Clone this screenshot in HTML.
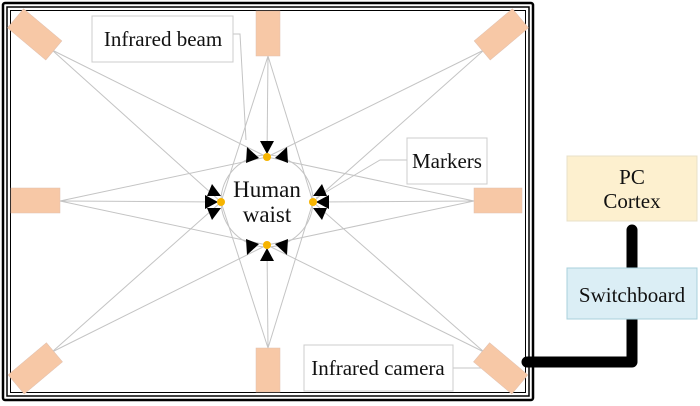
<!DOCTYPE html>
<html><head><meta charset="utf-8"><style>
body{margin:0;background:#fff}
svg{display:block}
text{font-family:"Liberation Serif",serif;fill:#111}
</style></head><body>
<svg width="700" height="406" viewBox="0 0 700 406">
<rect x="3" y="3" width="530" height="397" fill="none" stroke="#000" stroke-width="2.5" rx="2"/>
<rect x="7" y="7" width="522" height="389" fill="none" stroke="#000" stroke-width="1.5"/>
<rect x="10.5" y="10.5" width="515" height="382" fill="none" stroke="#000" stroke-width="1"/>
<g stroke="#c4c4c4" stroke-width="1" fill="none">
<line x1="52" y1="50" x2="267" y2="157"/><line x1="52" y1="50" x2="221" y2="202"/>
<line x1="268" y1="56" x2="267" y2="157"/><line x1="268" y1="56" x2="221" y2="202"/><line x1="268" y1="56" x2="313" y2="202"/>
<line x1="484" y1="50" x2="267" y2="157"/><line x1="484" y1="50" x2="313" y2="202"/>
<line x1="60" y1="201" x2="221" y2="202"/><line x1="60" y1="201" x2="267" y2="157"/><line x1="60" y1="201" x2="267" y2="245"/>
<line x1="474" y1="201" x2="313" y2="202"/><line x1="474" y1="201" x2="267" y2="157"/><line x1="474" y1="201" x2="267" y2="245"/>
<line x1="52" y1="352" x2="267" y2="245"/><line x1="52" y1="352" x2="221" y2="202"/>
<line x1="268" y1="348" x2="267" y2="245"/><line x1="268" y1="348" x2="221" y2="202"/><line x1="268" y1="348" x2="313" y2="202"/>
<line x1="484" y1="352" x2="267" y2="245"/><line x1="484" y1="352" x2="313" y2="202"/>
<circle cx="267" cy="201" r="46"/>
<polyline points="233,34 240,34 246,140"/>
<polyline points="407,160 380,160 316,198"/>
<line x1="453" y1="368" x2="500" y2="368"/>
</g>
<g fill="#f7c8a6" stroke="#e0c0b0" stroke-width="0.5">
<rect x="256" y="11" width="24" height="45"/>
<rect x="256" y="348" width="24" height="44"/>
<rect x="11" y="188" width="49" height="25"/>
<rect x="474" y="188" width="48" height="25"/>
<rect x="-25" y="-12" width="50" height="25" transform="translate(35,34) rotate(40)"/>
<rect x="-25" y="-12" width="50" height="25" transform="translate(501,34) rotate(-40)"/>
<rect x="-25" y="-12" width="50" height="25" transform="translate(35,368) rotate(-40)"/>
<rect x="-25" y="-12" width="50" height="25" transform="translate(501,368) rotate(40)"/>
</g>
<g fill="#000">
<polygon points="260,141 274,141 267,154"/><polygon points="247,147 259,158 246,163"/><polygon points="287,147 275,158 288,163"/>
<polygon points="260,261 274,261 267,248"/><polygon points="247,255 259,244 246,239"/><polygon points="287,255 275,244 288,239"/>
<polygon points="205,195 205,209 218,202"/><polygon points="212,184 221,196 207,196"/><polygon points="212,220 221,208 207,208"/>
<polygon points="329,195 329,209 316,202"/><polygon points="322,184 313,196 327,196"/><polygon points="322,220 313,208 327,208"/>
</g>
<g fill="#f6b400"><circle cx="267" cy="157" r="4"/><circle cx="221" cy="202" r="4"/><circle cx="313" cy="202" r="4"/><circle cx="267" cy="245" r="4"/></g>
<text x="267" y="197" font-size="23" text-anchor="middle">Human</text>
<text x="267" y="222" font-size="23" text-anchor="middle">waist</text>
<g fill="#fff" stroke="#ccc"><rect x="92" y="16" width="141" height="46"/><rect x="407" y="138" width="80" height="46"/><rect x="304" y="345" width="149" height="46"/></g>
<text x="163" y="46" font-size="21" text-anchor="middle">Infrared beam</text>
<text x="447" y="168" font-size="21" text-anchor="middle">Markers</text>
<text x="378" y="375" font-size="21" text-anchor="middle">Infrared camera</text>
<path d="M632,230 V270 M632,315 V362 H527" stroke="#000" stroke-width="11" fill="none" stroke-linecap="round" stroke-linejoin="round"/>
<rect x="567" y="156" width="130" height="65" fill="#fdf0cf" stroke="#e8e0c8"/>
<rect x="567" y="268" width="130" height="51" fill="#dbeef5" stroke="#a8d0dc"/>
<text x="632" y="184" font-size="21" text-anchor="middle">PC</text>
<text x="632" y="208" font-size="21" text-anchor="middle">Cortex</text>
<text x="632" y="302" font-size="21" text-anchor="middle">Switchboard</text>
</svg>
</body></html>
